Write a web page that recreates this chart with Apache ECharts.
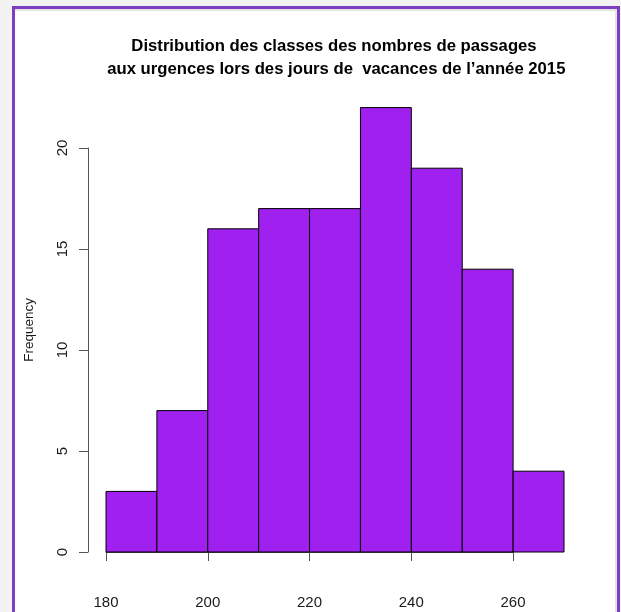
<!DOCTYPE html>
<html>
<head>
<meta charset="utf-8">
<script src="https://cdn.jsdelivr.net/npm/echarts@6/dist/echarts.min.js"></script>
<style>
  html, body { margin: 0; padding: 0; background: #f2f2f2; }
  #frame {
    position: absolute; left: 12px; top: 6px; width: 602px; height: 620px;
    border: 3px solid #7b3fbf; background: #fff;
    box-shadow: inset -2px 2px 0 #e4e4e4;
  }
  #main { position: absolute; left: 0; top: 0; width: 621px; height: 612px; }
</style>
</head>
<body>
<div id="frame"></div>
<div id="main"></div>
<script>
// histogram bins (class edges) and counts
var binStart = [180, 190, 200, 210, 220, 230, 240, 250, 260];
var binEnd   = [190, 200, 210, 220, 230, 240, 250, 260, 270];
var counts   = [3, 7, 16, 17, 17, 22, 19, 14, 4];

var xTicks = [180, 200, 220, 240, 260];
var yTicks = [0, 5, 10, 15, 20];

var histData = binStart.map(function (s, i) { return [s, binEnd[i], counts[i]]; });

var chart = echarts.init(document.getElementById('main'), null, { renderer: 'canvas' });

var option = {
    animation: false,
    title: {
        text: 'Distribution des classes des nombres de passages\n aux urgences lors des jours de  vacances de l\u2019année 2015',
        left: 329,
        top: 30,
        textAlign: 'center',
        textStyle: {
            fontFamily: 'Liberation Sans',
            fontWeight: 'bold',
            fontSize: 16.7,
            lineHeight: 23,
            color: '#000'
        }
    },
    grid: [
        // plotting region for the bars
        { left: 106, right: 57, top: 107.6, bottom: 60 },
        // region for the R-style axes (0..20, 180..260)
        { left: 106, right: 108, top: 148, bottom: 60 }
    ],
    xAxis: [
        { gridIndex: 0, type: 'value', min: 180, max: 270, show: false },
        {
            gridIndex: 1, type: 'value', min: xTicks[0], max: xTicks[xTicks.length - 1], interval: 20,
            offset: 18,
            axisLine: { show: true, lineStyle: { color: '#555', width: 1 } },
            axisTick: { show: true, length: 9, lineStyle: { color: '#555' } },
            splitLine: { show: false },
            axisLabel: { fontFamily: 'Liberation Sans', fontSize: 15, color: '#1a1a1a', margin: 25 }
        }
    ],
    yAxis: [
        {
            gridIndex: 0, type: 'value', min: 0, max: 22,
            axisLine: { show: false }, axisTick: { show: false }, axisLabel: { show: false },
            splitLine: { show: false },
            name: 'Frequency', nameLocation: 'middle', nameRotate: 90, nameGap: 70,
            nameTextStyle: { fontFamily: 'Liberation Sans', fontSize: 13.5, color: '#1a1a1a' }
        },
        {
            gridIndex: 1, type: 'value', min: yTicks[0], max: yTicks[yTicks.length - 1], interval: 5,
            offset: 18,
            axisLine: { show: true, lineStyle: { color: '#555', width: 1 } },
            axisTick: { show: true, length: 9, lineStyle: { color: '#555' } },
            splitLine: { show: false },
            axisLabel: { fontFamily: 'Liberation Sans', fontSize: 15, color: '#1a1a1a', rotate: 90, margin: 18 }
        }
    ],
    series: [{
        type: 'custom',
        xAxisIndex: 0,
        yAxisIndex: 0,
        data: histData,
        renderItem: function (params, api) {
            var p0 = api.coord([api.value(0), 0]);
            var p1 = api.coord([api.value(1), api.value(2)]);
            return {
                type: 'rect',
                shape: { x: p0[0], y: p1[1], width: p1[0] - p0[0], height: p0[1] - p1[1] },
                style: { fill: '#a020f0', stroke: '#000', lineWidth: 1 }
            };
        }
    }]
};

chart.setOption(option);
</script>
</body>
</html>
